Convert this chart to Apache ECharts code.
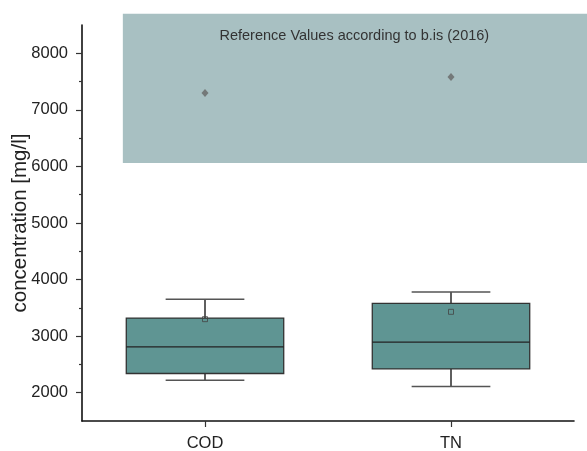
<!DOCTYPE html>
<html><head><meta charset="utf-8">
<script src="https://cdn.jsdelivr.net/npm/echarts@6/dist/echarts.min.js"></script>
<style>html,body{margin:0;padding:0;background:#fff}#c{width:587px;height:451px}</style>
</head><body><div id="c"></div>
<script>
const categories = ['COD', 'TN'];
// [whiskerLow, Q1, median, Q3, whiskerHigh]
const boxCOD = [2220, 2340, 2810, 3320, 3650];
const boxTN = [2110, 2420, 2895, 3580, 3780];
const means = [3300, 3430];
const referenceValues = [7300, 7580];
const referenceBand = [6060, 8700];
const yTickValues = [2000, 3000, 4000, 5000, 6000, 7000, 8000];
const yMinorTickValues = [2500, 3500, 4500, 5500, 6500, 7500];
const referenceLabel = 'Reference Values according to b.is (2016)';
const yName = 'concentration [mg/l]';

const FONT = 'Liberation Sans, Arial, Helvetica, sans-serif';
const chart = echarts.init(document.getElementById('c'), null, {renderer: 'canvas'});

function renderBox(params, api) {
  const idx = api.value(0);
  const pLow = api.coord([idx, api.value(1)]);
  const pQ1 = api.coord([idx, api.value(2)]);
  const pMed = api.coord([idx, api.value(3)]);
  const pQ3 = api.coord([idx, api.value(4)]);
  const pHigh = api.coord([idx, api.value(5)]);
  const band = api.size([1, 0])[0];
  const bw = band * 0.64, cw = bw / 2;
  const cx = pMed[0];
  const whisk = {stroke: '#2a2a2a', lineWidth: 1.5};
  const cap = {stroke: '#555', lineWidth: 1.5};
  return {type: 'group', children: [
    {type: 'line', shape: {x1: cx, y1: pHigh[1], x2: cx, y2: pQ3[1]}, style: whisk},
    {type: 'line', shape: {x1: cx, y1: pQ1[1], x2: cx, y2: pLow[1]}, style: whisk},
    {type: 'line', shape: {x1: cx - cw / 2, y1: pHigh[1], x2: cx + cw / 2, y2: pHigh[1]}, style: cap},
    {type: 'line', shape: {x1: cx - cw / 2, y1: pLow[1], x2: cx + cw / 2, y2: pLow[1]}, style: cap},
    {type: 'rect', shape: {x: cx - bw / 2, y: pQ3[1], width: bw, height: pQ1[1] - pQ3[1]},
      style: {fill: '#5f9593', stroke: '#333', lineWidth: 1.3}},
    {type: 'line', shape: {x1: cx - bw / 2, y1: pMed[1], x2: cx + bw / 2, y2: pMed[1]},
      style: {stroke: '#222', lineWidth: 1.3}}
  ]};
}

function renderBand(params, api) {
  const p0 = api.coord([0.666, api.value(0)]);
  const p1 = api.coord([2.6, api.value(1)]);
  const x = p0[0], y = p1[1], w = p1[0] - p0[0], h = p0[1] - p1[1];
  const cx = (p0[0] + api.coord([2.548, 0])[0]) / 2;
  return {type: 'group', children: [
    {type: 'rect', shape: {x: x, y: y, width: w, height: h}, style: {fill: '#a8c0c2'}},
    {type: 'text', x: cx, y: y + 22.5, style: {text: referenceLabel, fill: '#333',
      font: '14.5px ' + FONT, align: 'center', verticalAlign: 'middle'}}
  ]};
}

const option = {
  animation: false,
  backgroundColor: '#fff',
  grid: {left: 82, right: 13, top: 25, bottom: 30, containLabel: false, outerBoundsMode: 'none'},
  xAxis: [
    {type: 'category', data: categories, boundaryGap: true,
      axisLine: {show: true, lineStyle: {color: '#111', width: 1.6}},
      axisTick: {show: true, alignWithLabel: true, length: 6, lineStyle: {color: '#333', width: 1.2}},
      axisLabel: {color: '#222', fontSize: 16.5, fontFamily: FONT, margin: 13.5},
      splitLine: {show: false}},
    {type: 'value', min: 0.5, max: 2.5, show: false}
  ],
  yAxis: [
    {type: 'value', min: 1500, max: 8500,
      name: yName, nameLocation: 'middle', nameGap: 51, nameRotate: 90, nameMoveOverlap: false,
      nameTextStyle: {fontSize: 20.5, color: '#222', fontFamily: FONT},
      axisLine: {show: true, lineStyle: {color: '#111', width: 1.6}},
      axisTick: {show: true, customValues: yTickValues, length: 6, lineStyle: {color: '#333', width: 1.2}},
      axisLabel: {customValues: yTickValues, color: '#222', fontSize: 16.5, fontFamily: FONT, margin: 14,
        formatter: function (v) { return String(v); }},
      splitLine: {show: false}},
    {type: 'value', min: 1500, max: 8500, position: 'left',
      axisLine: {show: false},
      axisTick: {show: true, customValues: yMinorTickValues, length: 3, lineStyle: {color: '#333', width: 1.2}},
      axisLabel: {show: false},
      splitLine: {show: false}}
  ],
  series: [
    {type: 'custom', name: 'band', xAxisIndex: 1, yAxisIndex: 0, clip: false, silent: true, z: 1,
      renderItem: renderBand, data: [[referenceBand[0], referenceBand[1]]],
      encode: {y: [0, 1]}},
    {type: 'custom', name: 'box', xAxisIndex: 0, yAxisIndex: 0, z: 2,
      renderItem: renderBox,
      data: [[0].concat(boxCOD), [1].concat(boxTN)],
      encode: {x: 0, y: [1, 2, 3, 4, 5]}},
    {type: 'scatter', name: 'mean', xAxisIndex: 0, yAxisIndex: 0, z: 3,
      symbol: 'rect', symbolSize: 5,
      itemStyle: {color: 'rgba(0,0,0,0)', borderColor: '#444', borderWidth: 1},
      data: means},
    {type: 'scatter', name: 'reference', xAxisIndex: 0, yAxisIndex: 0, z: 3,
      symbol: 'diamond', symbolSize: [7, 8],
      itemStyle: {color: '#666'},
      data: referenceValues}
  ]
};
chart.setOption(option);
</script>
</body></html>
